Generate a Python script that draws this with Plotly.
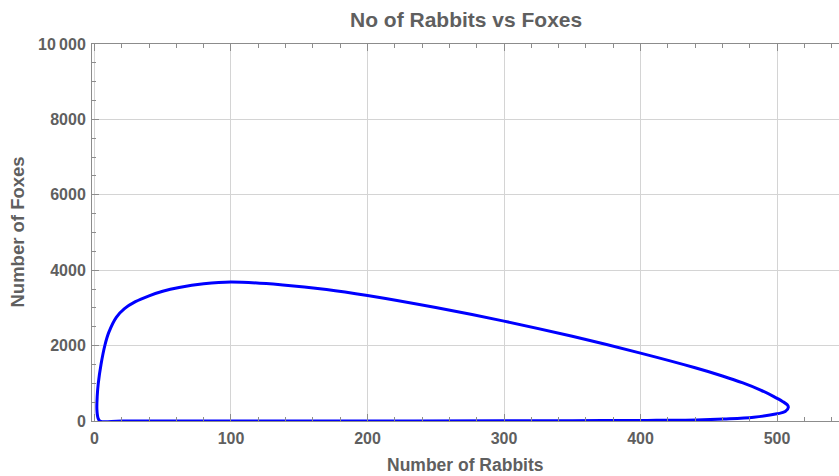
import plotly.graph_objects as go

# Phase-plane trajectory: rabbits (x) against foxes (y), one closed orbit
rabbits = [4, 2.6, 1.8, 2.0, 2.8, 4.8, 7.7, 10.5, 16, 22, 30, 40, 50, 62,
           80, 100, 138, 170, 200, 250, 300, 350, 400, 440, 460,
           475, 488, 497, 504, 507.5, 508.3, 506, 500, 483, 461, 441, 405,
           350, 300, 200, 100, 20, 4]
foxes = [0, 80, 300, 650, 1000, 1500, 2016, 2350, 2750, 2980, 3165, 3320, 3440, 3540,
         3640, 3690, 3610, 3490, 3330, 3010, 2650, 2246, 1800, 1412, 1195,
         1010, 820, 660, 520, 430, 363, 250, 190, 100, 53, 28, 15,
         8, 4, 1, 0, 0, 0]

x_ticks = [0, 100, 200, 300, 400, 500]
y_ticks = [0, 2000, 4000, 6000, 8000, 10000]
y_tick_text = ["0", "2000", "4000", "6000", "8000", "10\u2009000"]

TEXT = "#5f5f5f"
FRAME = "#8c8c8c"
GRID = "#d4d4d4"
FONT = "Liberation Sans"

fig = go.Figure()
fig.add_trace(go.Scatter(
    x=rabbits, y=foxes, mode="lines",
    line=dict(color="#0000ff", width=3, shape="spline", smoothing=1.0),
    hoverinfo="skip", showlegend=False,
))

fig.update_layout(
    width=839, height=476,
    margin=dict(l=92, r=0, t=44, b=55),
    paper_bgcolor="white", plot_bgcolor="white",
    font=dict(family=FONT, color=TEXT),
    xaxis=dict(
        range=[-1.8, 545.4], tickvals=x_ticks,
        ticks="inside", ticklen=7, tickwidth=1, tickcolor=FRAME,
        minor=dict(dtick=20, ticks="inside", ticklen=4, tickcolor=FRAME, showgrid=False),
        showline=True, linecolor=FRAME, linewidth=1, mirror="ticks",
        showgrid=True, gridcolor=GRID, gridwidth=1, zeroline=False,
        tickfont=dict(family=FONT, size=16, color=TEXT, weight="bold"),
        ticklabelstandoff=3,
    ),
    yaxis=dict(
        range=[0, 10000], tickvals=y_ticks, ticktext=y_tick_text,
        ticks="inside", ticklen=7, tickwidth=1, tickcolor=FRAME,
        minor=dict(dtick=500, ticks="inside", ticklen=4, tickcolor=FRAME, showgrid=False),
        showline=True, linecolor=FRAME, linewidth=1, mirror=False,
        showgrid=True, gridcolor=GRID, gridwidth=1, zeroline=False,
        tickfont=dict(family=FONT, size=16, color=TEXT, weight="bold"),
        ticklabelstandoff=2,
    ),
    annotations=[
        dict(text="<b>No of Rabbits vs Foxes</b>", xref="paper", yref="paper",
             x=0.5, y=1, yanchor="middle", yshift=25, showarrow=False,
             font=dict(family=FONT, size=21, color=TEXT)),
        dict(text="<b>Number of Rabbits</b>", xref="paper", yref="paper",
             x=0.5, y=0, yanchor="middle", yshift=-44, showarrow=False,
             font=dict(family=FONT, size=17.5, color=TEXT)),
        dict(text="<b>Number of Foxes</b>", xref="paper", yref="paper",
             x=0, y=0.5, xanchor="center", xshift=-75, textangle=-90,
             showarrow=False, font=dict(family=FONT, size=18.5, color=TEXT)),
    ],
)

fig.write_html("out.html")
